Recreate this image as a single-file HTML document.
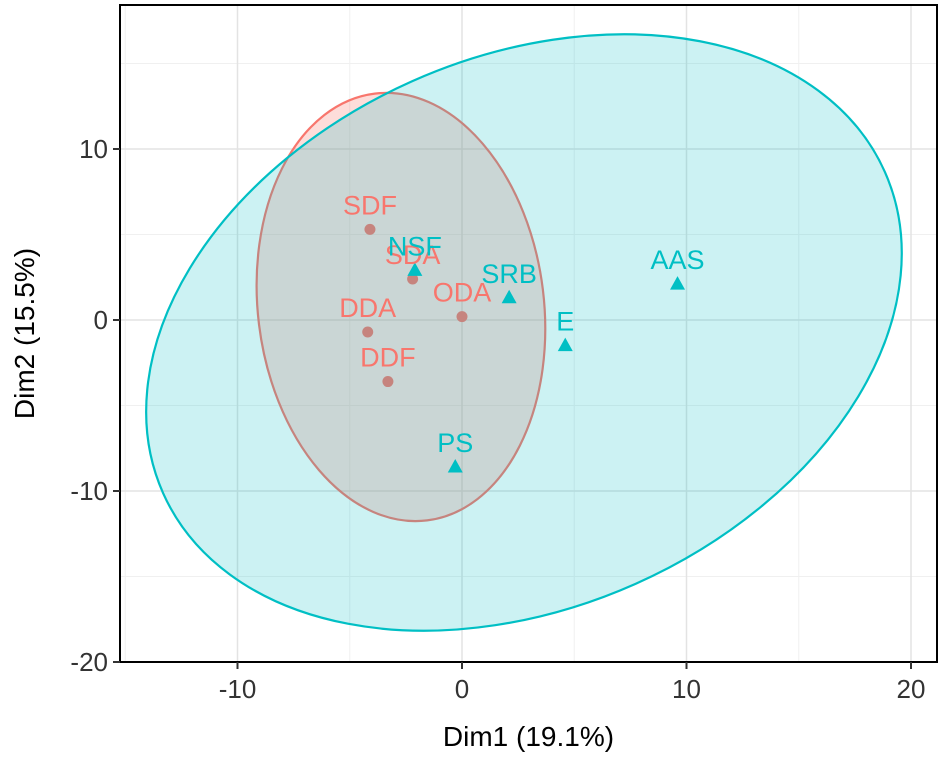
<!DOCTYPE html>
<html><head><meta charset="utf-8"><style>
body{margin:0;background:#fff}
svg text{font-family:"Liberation Sans",Arial,sans-serif}
</style></head><body>
<svg id="c" width="945" height="755" xmlns="http://www.w3.org/2000/svg"></svg>
<script>
const redNames=["SDF","SDA","DDA","DDF","ODA"];
const redX=[-4.1,-2.2,-4.2,-3.3,0.0];
const redY=[5.3,2.4,-0.7,-3.6,0.2];
const blueNames=["NSF","SRB","AAS","E","PS"];
const blueX=[-2.1,2.1,9.6,4.6,-0.3];
const blueY=[2.9,1.3,2.1,-1.5,-8.6];
const xTicks=[-10,0,10,20];
const yTicks=[10,0,-10,-20];
const xMinor=[-15,-5,5,15];
const yMinor=[15,5,-5,-15];
const redEllipse=[-2.72,0.76];
const blueEllipse=[2.76,-0.73];

const L=120,R=937,T=5,B=662;
const sx=v=>462+v*22.45;
const sy=v=>320-v*17.1;
const svg=document.getElementById('c');
const NS="http://www.w3.org/2000/svg";
function mk(tag,attrs,name,parent){
  const e=document.createElementNS(NS,tag);
  for(const k in attrs)e.setAttribute(k,attrs[k]);
  
  
  (parent||svg).appendChild(e);return e;
}
mk('rect',{x:L,y:T,width:R-L,height:B-T,fill:'#fff'},'plot-panel');
xMinor.forEach(v=>mk('line',{x1:sx(v),x2:sx(v),y1:T,y2:B,stroke:'#f0f0f0','stroke-width':1},'minor-gridline-x'));
yMinor.forEach(v=>mk('line',{x1:L,x2:R,y1:sy(v),y2:sy(v),stroke:'#f0f0f0','stroke-width':1},'minor-gridline-y'));
xTicks.forEach(v=>mk('line',{x1:sx(v),x2:sx(v),y1:T,y2:B,stroke:'#e3e3e3','stroke-width':1.5},'gridline-x'));
yTicks.forEach(v=>mk('line',{x1:L,x2:R,y1:sy(v),y2:sy(v),stroke:'#e3e3e3','stroke-width':1.5},'gridline-y'));
const rcx=sx(redEllipse[0]),rcy=sy(redEllipse[1]);
mk('ellipse',{cx:rcx,cy:rcy,rx:143,ry:215,transform:`rotate(-7 ${rcx} ${rcy})`,fill:'#F8766D','fill-opacity':0.25,stroke:'#F8766D','stroke-width':2.2},'ellipse-group-1');
redX.forEach((v,i)=>mk('circle',{cx:sx(v),cy:sy(redY[i]),r:5.5,fill:'#F8766D'},'point-'+redNames[i]));
const bcx=sx(blueEllipse[0]),bcy=sy(blueEllipse[1]);
mk('ellipse',{cx:bcx,cy:bcy,rx:395,ry:275,transform:`rotate(-24 ${bcx} ${bcy})`,fill:'#00BFC4','fill-opacity':0.2,stroke:'#00BFC4','stroke-width':2.2},'ellipse-group-2');
blueX.forEach((v,i)=>{const x=sx(v),y=sy(blueY[i]);mk('polygon',{points:`${x},${y-8} ${x-7.5},${y+5.5} ${x+7.5},${y+5.5}`,fill:'#00BFC4'},'point-'+blueNames[i]);});
redX.forEach((v,i)=>{const t=mk('text',{x:sx(v),y:sy(redY[i])-15,'text-anchor':'middle','font-size':27,fill:'#F8766D'},'label-'+redNames[i]);t.textContent=redNames[i];});
blueX.forEach((v,i)=>{const t=mk('text',{x:sx(v),y:sy(blueY[i])-15,'text-anchor':'middle','font-size':27,fill:'#00BFC4'},'label-'+blueNames[i]);t.textContent=blueNames[i];});
mk('rect',{x:L,y:T,width:R-L,height:B-T,fill:'none',stroke:'#000','stroke-width':2},'panel-border');
xTicks.forEach(v=>{mk('line',{x1:sx(v),x2:sx(v),y1:B,y2:B+7,stroke:'#333','stroke-width':2},'x-tick');
 const t=mk('text',{x:sx(v),y:B+36,'text-anchor':'middle','font-size':26,fill:'#333'},'x-tick-label');t.textContent=v;});
yTicks.forEach(v=>{mk('line',{x1:L-7,x2:L,y1:sy(v),y2:sy(v),stroke:'#333','stroke-width':2},'y-tick');
 const t=mk('text',{x:L-12,y:sy(v)+9,'text-anchor':'end','font-size':26,fill:'#333'},'y-tick-label');t.textContent=v;});
const xt=mk('text',{x:(L+R)/2,y:746,'text-anchor':'middle','font-size':28,fill:'#000'},'x-axis-title');xt.textContent='Dim1 (19.1%)';
const yt=mk('text',{x:34,y:(T+B)/2,'text-anchor':'middle','font-size':28,fill:'#000',transform:`rotate(-90 34 ${(T+B)/2})`},'y-axis-title');yt.textContent='Dim2 (15.5%)';
</script>
</body></html>
